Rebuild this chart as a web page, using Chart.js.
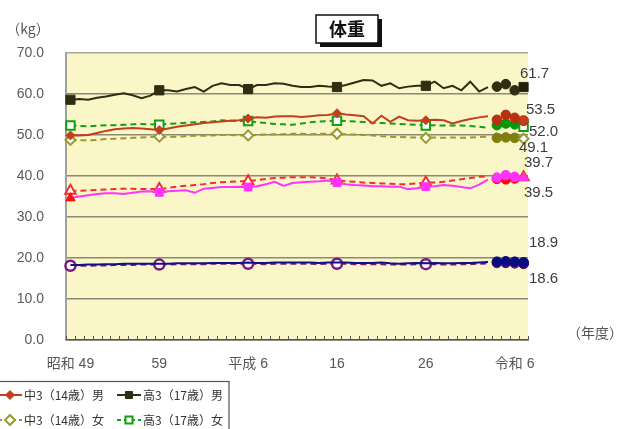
<!DOCTYPE html>
<html>
<head>
<meta charset="utf-8">
<script src="https://cdn.jsdelivr.net/npm/chart.js@4.4.1/dist/chart.umd.min.js"></script>
<style>
  html, body { margin: 0; padding: 0; background: #ffffff; overflow: hidden; }
  #wrap { position: relative; width: 622px; height: 429px; }
</style>
</head>
<body>
<div id="wrap"><canvas id="c" width="622" height="429"></canvas></div>
<script>
// ---- categories: school-year (年度) labels, 昭和49 onward ----
const eraYears = [];
for (let y = 49; y <= 63; y++) eraYears.push('昭和' + y);
eraYears.push('平成元');
for (let y = 2; y <= 30; y++) eraYears.push('平成' + y);
eraYears.push('令和元');
for (let y = 2; y <= 7; y++) eraYears.push('令和' + y);

// labels printed under every tenth category
const xTickText = ['昭和 49', '59', '平成 6', '16', '26', '令和 6'];

// ---- continuous series (first 48 categories), kg ----
const chu3Boys = [49.9,49.9,50.0,50.5,51.0,51.4,51.6,51.7,51.6,51.4,
  51.2,51.6,52.0,52.3,52.6,52.9,53.1,53.3,53.5,53.6,
  54.0,54.3,54.2,54.5,54.6,54.6,54.4,54.6,54.8,54.9,
  55.3,55.0,54.8,54.6,52.8,54.7,53.2,54.5,53.6,53.5,
  53.6,53.7,53.6,52.8,53.4,53.9,54.3,54.6];
const koBoys = [58.6,58.8,58.6,59.1,59.4,59.8,60.2,59.7,59.0,59.6,
  60.9,60.9,60.6,61.2,61.7,60.6,62.0,62.6,62.2,62.2,
  61.2,62.2,62.2,62.6,62.5,62.0,61.7,61.7,62.0,61.8,
  61.7,62.2,62.8,63.4,63.3,62.0,62.6,61.4,61.8,62.0,
  62.0,63.0,61.4,62.0,60.9,63.0,60.6,61.7];
const chu3Girls = [48.8,48.7,48.7,48.8,49.0,49.1,49.2,49.3,49.4,49.5,
  49.6,49.5,49.6,49.7,49.8,49.8,49.9,50.0,50.0,49.9,
  49.9,50.0,50.1,50.2,50.2,50.3,50.3,50.2,50.3,50.3,
  50.3,50.2,50.1,50.0,49.9,49.7,49.6,49.5,49.4,49.4,
  49.3,49.4,49.3,49.4,49.3,49.4,49.5,49.6];
const koGirls = [52.3,52.2,52.1,52.3,52.4,52.4,52.5,52.6,52.7,52.6,
  52.5,52.7,52.8,53.0,53.1,53.2,53.3,53.6,53.5,53.4,
  53.4,53.1,52.9,52.7,52.6,52.5,52.8,53.1,53.3,53.4,
  53.5,53.4,53.3,53.2,53.0,52.9,52.8,52.7,52.6,52.5,
  52.3,52.4,52.3,52.3,52.3,52.2,52.0,51.8];
const sho6Boys = [34.6,35.0,35.3,35.6,35.8,35.8,35.6,35.9,36.2,36.3,
  36.0,36.3,36.4,36.5,35.9,36.9,37.1,37.3,37.3,37.4,
  37.3,37.5,38.0,38.6,37.6,38.3,38.5,38.6,38.7,38.9,
  38.4,38.0,37.8,37.7,37.5,37.5,37.4,37.4,36.8,37.0,
  37.4,37.5,37.8,37.6,37.3,37.0,37.9,39.1];
const sho6Girls = [36.4,36.4,36.5,36.6,36.7,36.8,36.9,36.9,36.8,36.8,
  36.8,37.1,37.4,37.6,37.8,38.0,38.3,38.5,38.6,38.7,
  38.7,39.0,39.3,39.5,39.6,39.7,39.7,39.7,39.6,39.4,
  38.9,38.7,38.6,38.4,38.3,38.2,38.1,38.0,38.0,38.2,
  38.4,38.4,38.6,38.9,39.2,39.5,39.8,39.9];
const kinderBoys = [18.3,18.3,18.4,18.4,18.5,18.5,18.6,18.6,18.6,18.6,
  18.6,18.6,18.7,18.7,18.7,18.7,18.8,18.8,18.8,18.8,
  18.9,18.8,18.8,18.9,18.9,18.9,18.9,18.9,18.8,18.9,
  18.9,18.9,18.8,18.8,18.8,18.9,18.7,18.6,18.7,18.8,
  18.7,18.8,18.7,18.7,18.8,18.8,18.9,19.0];
const kinderGirls = [18.1,18.1,18.1,18.2,18.2,18.3,18.3,18.3,18.4,18.4,
  18.4,18.4,18.5,18.5,18.5,18.5,18.6,18.6,18.6,18.6,
  18.6,18.6,18.5,18.6,18.6,18.6,18.6,18.6,18.5,18.6,
  18.6,18.6,18.5,18.5,18.5,18.5,18.4,18.4,18.4,18.5,
  18.5,18.5,18.4,18.4,18.5,18.5,18.6,18.7];

// ---- latest years, plotted as separate points (last one carries the value label) ----
const chu3BoysRecent   = [53.7, 54.9, 54.2, 53.5];
const koBoysRecent     = [61.8, 62.4, 60.9, 61.7];
const chu3GirlsRecent  = [49.3, 49.4, 49.3, 49.1];
const koGirlsRecent    = [52.4, 52.8, 52.6, 52.0];
const sho6BoysRecent   = [39.6, 40.2, 39.8, 39.5];
const sho6GirlsRecent  = [39.3, 39.2, 39.4, 39.7];
const kinderBoysRecent = [19.1, 19.2, 19.1, 18.9];
const kinderGirlsRecent= [18.8, 18.8, 18.7, 18.6];

const LATIN = "'Liberation Sans', 'Noto Sans CJK JP', sans-serif";
const CJK = "'Noto Sans CJK JP', 'Liberation Sans', sans-serif";

// styling for each series
const series = [
  { label: '中3（14歳）男', values: chu3Boys, recent: chu3BoysRecent, line: '#c0401e', dash: [],
    style: 'rectRot', r: 4.5, fill: '#c0401e', bw: 1, dot: '#b8300f', last: 'circle', lastFill: '#c0401e',
    end: { dx: 17, dy: -11 } },
  { label: '高3（17歳）男', values: koBoys, recent: koBoysRecent, line: '#2e2e12', dash: [],
    style: 'rect', r: 6.5, fill: '#2e2e12', bw: 1, dot: '#2e2e12', last: 'rect', lastFill: '#1e1e0a',
    end: { dx: 11, dy: -13 } },
  { label: '中3（14歳）女', values: chu3Girls, recent: chu3GirlsRecent, line: '#9a9a2a', dash: [6, 4],
    style: 'rectRot', r: 5, fill: '#ffffff', bw: 2, dot: '#7f7f10', last: 'rectRot', lastFill: '#ffffff',
    end: { dx: 10, dy: 9 } },
  { label: '高3（17歳）女', values: koGirls, recent: koGirlsRecent, line: '#12a012', dash: [6, 4],
    style: 'rect', r: 6, fill: '#ffffff', bw: 2, dot: '#0a960a', last: 'rect', lastFill: '#ffffff',
    end: { dx: 20, dy: 5 } },
  { label: '小6（11歳）男', values: sho6Boys, recent: sho6BoysRecent, line: '#ff33ff', dash: [],
    style: 'rect', r: 5.5, fill: '#ff33ff', bw: 1, dot: '#ff33ff', last: 'triangle', lastFill: '#ff33ff',
    end: { dx: 15, dy: 15 } },
  { label: '小6（11歳）女', values: sho6Girls, recent: sho6GirlsRecent, line: '#f03030', dash: [6, 4],
    style: 'triangle', r: 6, fill: '#ffffff', bw: 2, dot: '#ff0000', last: 'triangle', lastFill: '#ffffff',
    end: { dx: 15, dy: -14 } },
  { label: '幼稚園（5歳）男', values: kinderBoys, recent: kinderBoysRecent, line: '#10108a', dash: [],
    style: 'circle', r: 0, fill: '#10108a', bw: 1, dot: '#0a0a80', last: 'circle', lastFill: '#0a0a80',
    end: { dx: 20, dy: -20 } },
  { label: '幼稚園（5歳）女', values: kinderGirls, recent: kinderGirlsRecent, line: '#7a1a7a', dash: [6, 4],
    style: 'circle', r: 5, fill: '#ffffff', bw: 2.5, dot: '#5a0a6a', last: 'circle', lastFill: '#5a0a6a',
    end: { dx: 20, dy: 15 } }
];

const RECENT_START = 48;
const datasets = [];
series.forEach((s, k) => {
  const isPink = k === 4;
  datasets.push({
    label: s.label,
    data: s.values,
    borderColor: s.line,
    borderWidth: 2,
    borderDash: s.dash,
    tension: 0,
    pointRadius: ctx => (ctx.dataIndex % 10 === 0 ? s.r : 0),
    pointStyle: ctx => (isPink && ctx.dataIndex === 0 ? 'triangle' : s.style),
    pointBackgroundColor: ctx => (isPink && ctx.dataIndex === 0 ? '#ff1010' : s.fill),
    pointBorderColor: ctx => (isPink && ctx.dataIndex === 0 ? '#ff1010' : s.line),
    pointBorderWidth: s.bw,
    seriesIdx: k
  });
});
series.forEach((s, k) => {
  const n = s.recent.length;
  datasets.push({
    label: s.label + ' ',
    data: s.recent.map((v, j) => ({ x: eraYears[RECENT_START + j], y: v })),
    showLine: false,
    pointStyle: s.recent.map((v, j) => (j === n - 1 ? s.last : 'circle')),
    pointRadius: s.recent.map((v, j) => (j === n - 1 ? Math.max(s.r, 5) : 4.8)),
    pointBackgroundColor: s.recent.map((v, j) => (j === n - 1 ? s.lastFill : s.dot)),
    pointBorderColor: s.recent.map((v, j) => (j === n - 1 ? (s.lastFill === '#ffffff' ? s.line : s.dot) : s.dot)),
    pointBorderWidth: s.recent.map((v, j) => (j === n - 1 && s.lastFill === '#ffffff' ? 2 : 1)),
    endLabel: s.end,
    seriesIdx: k
  });
});

// pale plot background
const plotBackground = {
  id: 'plotBackground',
  beforeDraw(chart) {
    const { ctx, chartArea: a } = chart;
    ctx.save();
    ctx.fillStyle = '#faf6c8';
    ctx.fillRect(a.left, a.top, a.right - a.left, a.bottom - a.top);
    ctx.restore();
  }
};

// title box, unit captions, inner ticks, end-of-line values and legend
const decorations = {
  id: 'decorations',
  afterDraw(chart) {
    const { ctx, chartArea: a, scales } = chart;
    const xs = scales.x;
    ctx.save();

    // small ticks on the category axis, pointing into the plot
    ctx.strokeStyle = '#555555';
    ctx.lineWidth = 1;
    const n = eraYears.length;
    const step = (a.right - a.left) / n;
    for (let i = 0; i <= n; i++) {
      const x = Math.round(xs.getPixelForValue(Math.min(i, n - 1)) + (i === n ? step / 2 : -step / 2)) + 0.5;
      ctx.beginPath();
      ctx.moveTo(x, a.bottom - 4);
      ctx.lineTo(x, a.bottom);
      ctx.stroke();
    }

    // title
    ctx.fillStyle = '#111111';
    ctx.fillRect(320, 19, 62, 28);
    ctx.fillStyle = '#ffffff';
    ctx.fillRect(316, 15, 62, 28);
    ctx.strokeStyle = '#111111';
    ctx.lineWidth = 1.5;
    ctx.strokeRect(316, 15, 62, 28);
    ctx.fillStyle = '#111111';
    ctx.font = 'bold 18px ' + CJK;
    ctx.textAlign = 'center';
    ctx.textBaseline = 'middle';
    ctx.fillText('体重', 347, 29.5);

    // unit captions
    ctx.fillStyle = '#555555';
    ctx.font = '14px ' + CJK;
    ctx.fillText('（kg）', 28, 29);
    ctx.fillText('（年度）', 595, 333);

    // values at the end of each series
    ctx.fillStyle = '#3c3c3c';
    ctx.font = '15px ' + LATIN;
    chart.data.datasets.forEach((ds, i) => {
      if (!ds.endLabel) return;
      const meta = chart.getDatasetMeta(i);
      const pt = meta.data[meta.data.length - 1];
      const v = ds.data[ds.data.length - 1].y;
      ctx.fillText(v.toFixed(1), pt.x + ds.endLabel.dx, pt.y + ds.endLabel.dy);
    });

    // legend box (extends past the lower edge)
    ctx.strokeStyle = '#555555';
    ctx.lineWidth = 1.2;
    ctx.strokeRect(-5, 381.5, 234, 80);
    const items = [
      { k: 0, x: -2, y: 395 }, { k: 1, x: 117, y: 395 },
      { k: 2, x: -2, y: 420 }, { k: 3, x: 117, y: 420 }
    ];
    ctx.textAlign = 'left';
    items.forEach(it => {
      const s = series[it.k];
      ctx.strokeStyle = s.line;
      ctx.lineWidth = 2;
      ctx.setLineDash(s.dash.length ? [4, 3] : []);
      ctx.beginPath();
      ctx.moveTo(it.x, it.y);
      ctx.lineTo(it.x + 24, it.y);
      ctx.stroke();
      ctx.setLineDash([]);
      ctx.fillStyle = s.fill;
      ctx.strokeStyle = s.line;
      ctx.lineWidth = s.bw;
      Chart.helpers.drawPoint(ctx, { pointStyle: s.style, radius: Math.min(s.r, 5), borderWidth: s.bw, rotation: 0 }, it.x + 12, it.y);
      ctx.fillStyle = '#333333';
      ctx.font = '12px ' + CJK;
      ctx.fillText(s.label, it.x + 26, it.y + 0.5);
    });
    ctx.restore();
  }
};

new Chart(document.getElementById('c'), {
  type: 'line',
  data: { labels: eraYears, datasets },
  plugins: [plotBackground, decorations],
  options: {
    responsive: false,
    animation: false,
    devicePixelRatio: 1,
    events: [],
    layout: { padding: { top: 53, right: 94, left: 0, bottom: 0 } },
    plugins: { legend: { display: false }, tooltip: { enabled: false }, title: { display: false } },
    scales: {
      x: {
        type: 'category',
        offset: true,
        grid: { display: false, drawTicks: false },
        border: { display: true, color: '#555555', width: 1.5 },
        ticks: {
          autoSkip: false, maxRotation: 0, minRotation: 0, padding: 16,
          color: '#555555', font: { family: LATIN, size: 14 },
          callback: (v, i) => (i % 10 === 0 ? xTickText[i / 10] : '')
        },
        afterFit: s => { s.height = 89; }
      },
      y: {
        min: 0, max: 70,
        grid: {
          drawTicks: false, lineWidth: 1.5,
          color: c => (c.tick && c.tick.value === 70 ? '#a9a79a' : '#8a8878')
        },
        border: { display: true, color: '#a0a0a0', width: 2 },
        ticks: {
          stepSize: 10, padding: 22, color: '#5a5a5a',
          font: { family: LATIN, size: 14 },
          callback: v => Number(v).toFixed(1)
        },
        afterFit: s => { s.width = 66; }
      }
    }
  }
});
</script>
</body>
</html>
